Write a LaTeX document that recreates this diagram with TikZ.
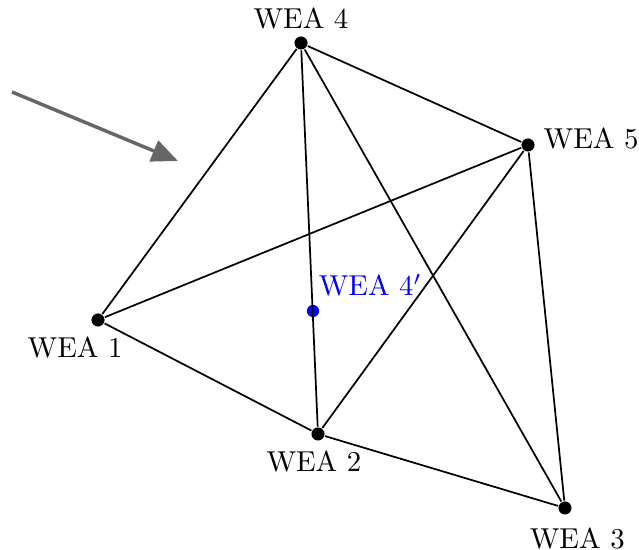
\documentclass[tikz,border=0pt]{standalone}
\usepackage{amsmath}
\usepackage{tikz}
\usetikzlibrary{arrows.meta}
\tikzset{wea/.style={circle, fill, inner sep=0pt, minimum size=1.6mm},
         weap/.style={wea, blue, minimum size=1.5mm}}

\begin{document}
\begin{tikzpicture}[x=0.0122cm, y=-0.0122cm, semithick]

           \useasboundingbox (0,0) rectangle (639,550);

           \node[wea, label={[inner sep=2pt]above:WEA 4}] (W4) at (301,43) {};
           \node[wea, label={[inner sep=0.9mm,yshift=0.8mm]right:WEA 5}] (W5) at (528,145) {};
           \node[wea, label={[inner sep=3pt,xshift=-2.8mm]below:WEA 1}] (W1) at (98,320) {};
           \node[wea, label={[inner sep=3pt,xshift=-0.5mm]below:WEA 2}] (W2) at (318,434) {};
           \node[wea, label={[inner sep=4pt,xshift=1.5mm]below:WEA 3}] (W3) at (565,508) {};
           \node[weap, label={[blue,inner sep=0pt,yshift=1.1mm]above right:WEA $4'$}] (W4p) at (313,311) {};

           \coordinate (A0) at (12,92);
           \coordinate (A1) at (178,161);

           \draw[line width=1.2pt, black!60, -{Triangle[length=3.2mm,width=2.7mm]}] (A0) -- (A1);

           \draw (W1) -- (W4);
           \draw (W1) -- (W5);
           \draw (W1) -- (W2);
           \draw (W2) -- (W3);
           \draw (W2) -- (W5);
           \draw (W2) -- (W4);
           \draw (W4) -- (W5);
           \draw (W4) -- (W3);
           \draw (W5) -- (W3);

         \end{tikzpicture}
\end{document}
